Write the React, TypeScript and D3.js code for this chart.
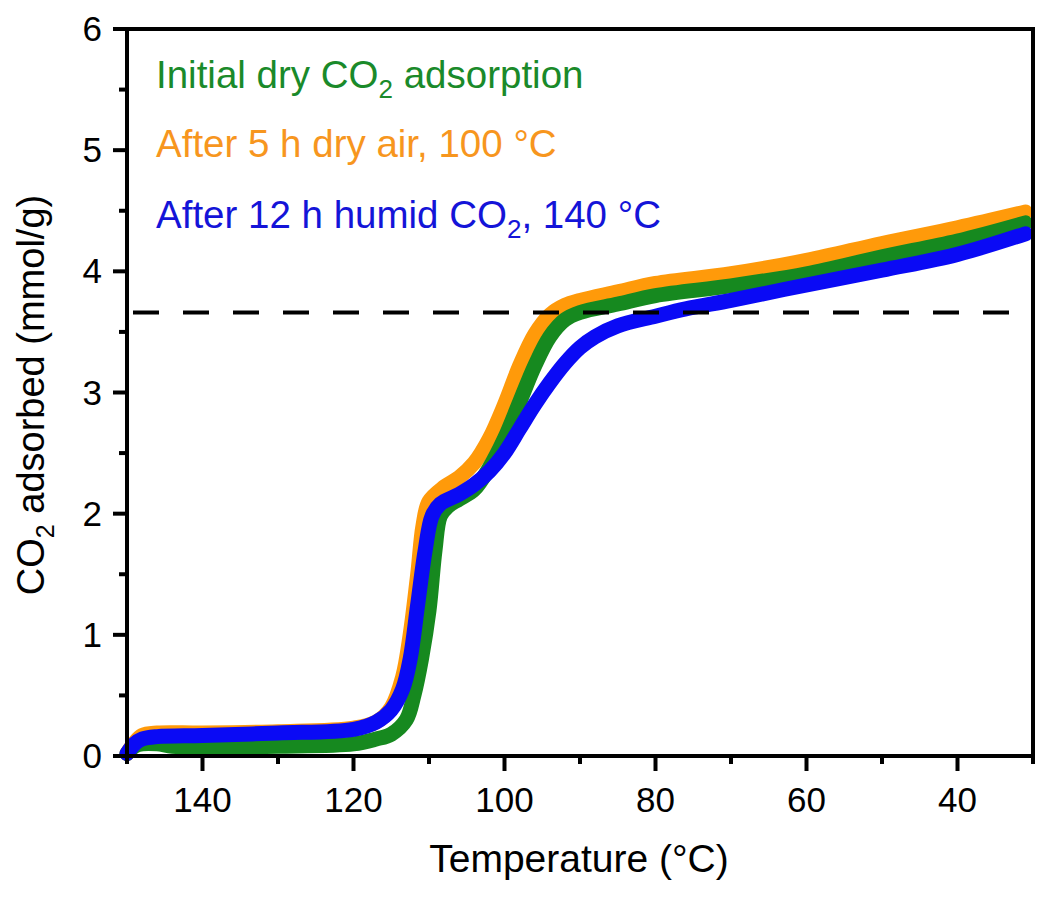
import React from "react";
import * as d3 from "d3";

// temperatures (°C) and CO2 adsorbed (mmol/g)
const orangeT = [150, 149, 148, 146, 140, 130, 120, 117, 115, 113.5, 112.5, 111.5, 110.8, 110, 108, 106, 104, 102, 100, 98, 96, 94, 92, 90, 85, 80, 70, 60, 50, 40, 31];
const orangeV = [0.02, 0.11, 0.17, 0.19, 0.19, 0.2, 0.23, 0.28, 0.4, 0.65, 1.0, 1.5, 1.9, 2.1, 2.22, 2.3, 2.42, 2.62, 2.9, 3.22, 3.48, 3.64, 3.72, 3.76, 3.83, 3.9, 3.98, 4.09, 4.23, 4.36, 4.49];

const greenT = [150, 149, 148, 146, 144, 140, 130, 120, 117, 115, 113, 112, 111, 110, 109.2, 108.5, 107.5, 106, 104, 102, 100, 98, 96, 94, 92, 90, 85, 80, 70, 60, 50, 40, 31];
const greenV = [0.02, 0.08, 0.1, 0.1, 0.08, 0.075, 0.08, 0.1, 0.14, 0.18, 0.3, 0.5, 0.8, 1.2, 1.7, 1.98, 2.06, 2.12, 2.2, 2.38, 2.62, 2.92, 3.22, 3.46, 3.6, 3.66, 3.73, 3.8, 3.88, 3.98, 4.12, 4.25, 4.4];

const blueT = [150, 149, 148, 146, 140, 130, 120, 117, 115, 113.5, 112.5, 111.5, 110.5, 109.6, 108.5, 106, 104, 102, 100, 98, 96, 94, 92, 90, 88, 85, 80, 76, 70, 63, 50, 40, 31];
const blueV = [0.02, 0.1, 0.14, 0.16, 0.17, 0.19, 0.22, 0.28, 0.38, 0.55, 0.8, 1.25, 1.7, 1.98, 2.08, 2.16, 2.24, 2.35, 2.5, 2.7, 2.9, 3.08, 3.24, 3.37, 3.46, 3.55, 3.63, 3.69, 3.76, 3.85, 4.01, 4.14, 4.31];

const xTicks = [140, 120, 100, 80, 60, 40];
const xMinor = [150, 130, 110, 90, 70, 50, 30];
const yTicks = [0, 1, 2, 3, 4, 5, 6];
const yMinor = [0.5, 1.5, 2.5, 3.5, 4.5, 5.5];
const refLevel = 3.66;

const series = [
  { name: "orange", t: orangeT, v: orangeV, color: "#ff9a0a" },
  { name: "green", t: greenT, v: greenV, color: "#16891f" },
  { name: "blue", t: blueT, v: blueV, color: "#0a0af5" },
];

const width = 1050,
  height = 901,
  margin = { top: 29, right: 17, bottom: 145, left: 127 };

const App: React.FC = () => {
  const x = d3
    .scaleLinear()
    .domain([150, 30])
    .range([margin.left, width - margin.right]);

  const y = d3
    .scaleLinear()
    .domain([0, 6])
    .range([height - margin.bottom, margin.top]);

  const line = d3
    .line<[number, number]>()
    .x((d) => x(d[0]))
    .y((d) => y(d[1]))
    .curve(d3.curveCatmullRom.alpha(0.5));

  const font = "'Liberation Sans', Arial, Helvetica, sans-serif";
  const x0 = x(150),
    x1 = x(30),
    y0 = y(0),
    y1 = y(6);

  return (
    <svg
      width={width}
      height={height}
      style={{ position: "absolute", left: 0, top: 0, background: "#fff" }}
      fontFamily={font}
    >
      {/* data */}
      <g fill="none" strokeLinecap="round" strokeLinejoin="round">
        {series.map((s) => (
          <path
            key={s.name}
            d={line(s.t.map((t, i) => [t, s.v[i]] as [number, number])) || ""}
            stroke={s.color}
            strokeWidth={15}
          />
        ))}
      </g>

      {/* dashed reference line */}
      <line
        x1={x0 + 6}
        x2={x1}
        y1={y(refLevel)}
        y2={y(refLevel)}
        stroke="#000"
        strokeWidth={4}
        strokeDasharray="26 24"
      />

      {/* frame */}
      <rect x={x0} y={y1} width={x1 - x0} height={y0 - y1} fill="none" stroke="#000" strokeWidth={4} />

      {/* ticks */}
      <g stroke="#000" strokeWidth={4}>
        {xTicks.map((t) => (
          <line key={t} x1={x(t)} x2={x(t)} y1={y0} y2={y0 + 15} />
        ))}
        {xMinor.map((t) => (
          <line key={"m" + t} x1={x(t)} x2={x(t)} y1={y0} y2={y0 + 8} />
        ))}
        {yTicks.map((t) => (
          <line key={"y" + t} x1={x0 - 14} x2={x0} y1={y(t)} y2={y(t)} />
        ))}
        {yMinor.map((t) => (
          <line key={"ym" + t} x1={x0 - 8} x2={x0} y1={y(t)} y2={y(t)} />
        ))}
      </g>
      <g fontSize={35} fill="#000" textAnchor="middle">
        {xTicks.map((t) => (
          <text key={t} x={x(t)} y={812}>
            {t}
          </text>
        ))}
      </g>
      <g fontSize={35} fill="#000" textAnchor="end">
        {yTicks.map((t) => (
          <text key={t} x={102} y={y(t) + 12}>
            {t}
          </text>
        ))}
      </g>

      {/* axis titles */}
      <text x={579} y={872} fontSize={39} textAnchor="middle" fill="#000">
        Temperature (°C)
      </text>
      <text
        transform={`translate(44,395) rotate(-90)`}
        fontSize={38}
        textAnchor="middle"
        fill="#000"
      >
        CO
        <tspan fontSize={25} dy={10}>2</tspan>
        <tspan dy={-10}> adsorbed (mmol/g)</tspan>
      </text>

      {/* legend */}
      <g fontSize={38.5}>
        <text x={156} y={88} fill="#1a8a2a">
          Initial dry CO
          <tspan fontSize={26} dy={10}>2</tspan>
          <tspan dy={-10}> adsorption</tspan>
        </text>
        <text x={156} y={157} fill="#f7961e">
          After 5 h dry air, 100 °C
        </text>
        <text x={156} y={228} fill="#1414d8">
          After 12 h humid CO
          <tspan fontSize={26} dy={10}>2</tspan>
          <tspan dy={-10}>, 140 °C</tspan>
        </text>
      </g>
    </svg>
  );
};

export default App;
